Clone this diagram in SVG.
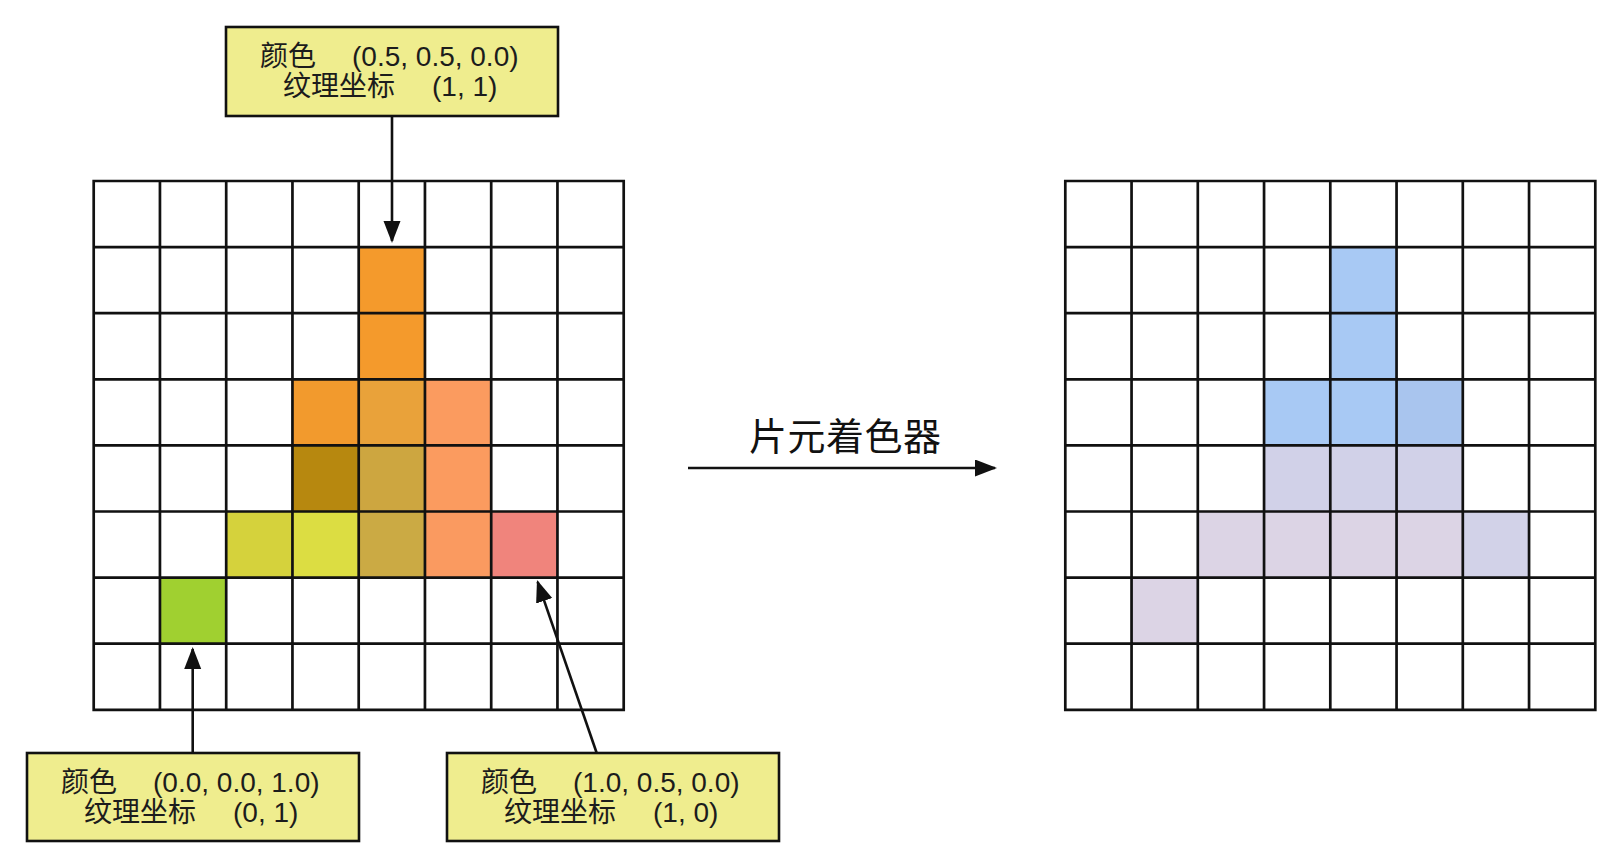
<svg xmlns="http://www.w3.org/2000/svg" xmlns:xlink="http://www.w3.org/1999/xlink" width="1622" height="868" viewBox="0 0 1622 868">
<style>
.box{fill:#EFED8E;stroke:#111;stroke-width:2.6}
.lbl{font-family:"Liberation Sans","Noto Sans CJK SC",sans-serif;font-size:28px;fill:#1c1c1c}
.cjk{font-family:"Noto Sans CJK SC",sans-serif}
.conn{stroke:#111;stroke-width:2.6;fill:none;marker-end:url(#ah)}
.gl{stroke:#111;stroke-width:2.7;fill:none}
.title{font-family:"Noto Sans CJK SC",sans-serif;font-size:38px;letter-spacing:0.5px;fill:#111}
</style>
<defs>
<marker id="ah" markerUnits="userSpaceOnUse" markerWidth="24" markerHeight="18" refX="20" refY="8.5" orient="auto">
<path d="M0,0 L22,8.5 L0,17 z" fill="#111"/>
</marker>
<g id="grid">
<path class="gl" d="M0,0 H530 V528.8 H0 Z M66.25,0 V528.8 M132.5,0 V528.8 M198.75,0 V528.8 M265,0 V528.8 M331.25,0 V528.8 M397.5,0 V528.8 M463.75,0 V528.8 M0,66.1 H530 M0,132.2 H530 M0,198.3 H530 M0,264.4 H530 M0,330.5 H530 M0,396.6 H530 M0,462.7 H530"/>
</g>
</defs>
<rect width="1622" height="868" fill="#fff"/>

<g id="input-grid">
<g id="input-fragments">
<rect x="358.7" y="247.1" width="66.25" height="66.1" fill="#F49A2C"/>
<rect x="358.7" y="313.2" width="66.25" height="66.1" fill="#F49A2C"/>
<rect x="292.45" y="379.3" width="66.25" height="66.1" fill="#F29A2D"/>
<rect x="358.7" y="379.3" width="66.25" height="66.1" fill="#E9A23A"/>
<rect x="424.95" y="379.3" width="66.25" height="66.1" fill="#FB9B5F"/>
<rect x="292.45" y="445.4" width="66.25" height="66.1" fill="#B7880F"/>
<rect x="358.7" y="445.4" width="66.25" height="66.1" fill="#CDA640"/>
<rect x="424.95" y="445.4" width="66.25" height="66.1" fill="#FB9B5F"/>
<rect x="226.2" y="511.5" width="66.25" height="66.1" fill="#D5D23C"/>
<rect x="292.45" y="511.5" width="66.25" height="66.1" fill="#DCDD42"/>
<rect x="358.7" y="511.5" width="66.25" height="66.1" fill="#CBAA44"/>
<rect x="424.95" y="511.5" width="66.25" height="66.1" fill="#FA9A60"/>
<rect x="491.2" y="511.5" width="66.25" height="66.1" fill="#F0847C"/>
<rect x="159.95" y="577.6" width="66.25" height="66.1" fill="#A0D030"/>
</g>
<use xlink:href="#grid" href="#grid" x="93.7" y="181"/>
</g>

<g id="output-grid">
<g id="output-fragments">
<rect x="1330.3" y="247.1" width="66.25" height="66.1" fill="#A8C9F4"/>
<rect x="1330.3" y="313.2" width="66.25" height="66.1" fill="#A8C9F4"/>
<rect x="1264.05" y="379.3" width="66.25" height="66.1" fill="#A8C9F4"/>
<rect x="1330.3" y="379.3" width="66.25" height="66.1" fill="#A8C9F4"/>
<rect x="1396.55" y="379.3" width="66.25" height="66.1" fill="#A9C5EE"/>
<rect x="1264.05" y="445.4" width="66.25" height="66.1" fill="#D1D1E8"/>
<rect x="1330.3" y="445.4" width="66.25" height="66.1" fill="#D1D1E8"/>
<rect x="1396.55" y="445.4" width="66.25" height="66.1" fill="#D1D1E8"/>
<rect x="1197.8" y="511.5" width="66.25" height="66.1" fill="#DCD4E5"/>
<rect x="1264.05" y="511.5" width="66.25" height="66.1" fill="#DCD4E5"/>
<rect x="1330.3" y="511.5" width="66.25" height="66.1" fill="#DCD4E5"/>
<rect x="1396.55" y="511.5" width="66.25" height="66.1" fill="#DCD4E5"/>
<rect x="1462.8" y="511.5" width="66.25" height="66.1" fill="#D2D2E8"/>
<rect x="1131.55" y="577.6" width="66.25" height="66.1" fill="#DCD4E5"/>
</g>
<use xlink:href="#grid" href="#grid" x="1065.3" y="181"/>
</g>

<g id="connectors">
<line class="conn" x1="392" y1="116" x2="392" y2="241"/>
<line class="conn" x1="192.7" y1="753" x2="192.7" y2="649"/>
<line class="conn" x1="596.7" y1="753" x2="537.65" y2="581.9"/>
<line class="conn" x1="688" y1="468" x2="995" y2="468"/>
</g>

<g id="label-top">
<rect class="box" x="226" y="27" width="332" height="89"/>
<text class="lbl"><tspan class="cjk" x="260" y="66">颜色</tspan><tspan x="352" y="66">(0.5, 0.5, 0.0)</tspan><tspan class="cjk" x="283" y="96">纹理坐标</tspan><tspan x="432" y="96">(1, 1)</tspan></text>
</g>

<g id="label-bottom-left">
<rect class="box" x="27" y="753" width="332" height="88"/>
<text class="lbl"><tspan class="cjk" x="61" y="792">颜色</tspan><tspan x="153" y="792">(0.0, 0.0, 1.0)</tspan><tspan class="cjk" x="84" y="822">纹理坐标</tspan><tspan x="233" y="822">(0, 1)</tspan></text>
</g>

<g id="label-bottom-right">
<rect class="box" x="447" y="753" width="332" height="88"/>
<text class="lbl"><tspan class="cjk" x="481" y="792">颜色</tspan><tspan x="573" y="792">(1.0, 0.5, 0.0)</tspan><tspan class="cjk" x="504" y="822">纹理坐标</tspan><tspan x="653" y="822">(1, 0)</tspan></text>
</g>

<g id="shader-label">
<text class="title" x="749" y="450">片元着色器</text>
</g>
</svg>
